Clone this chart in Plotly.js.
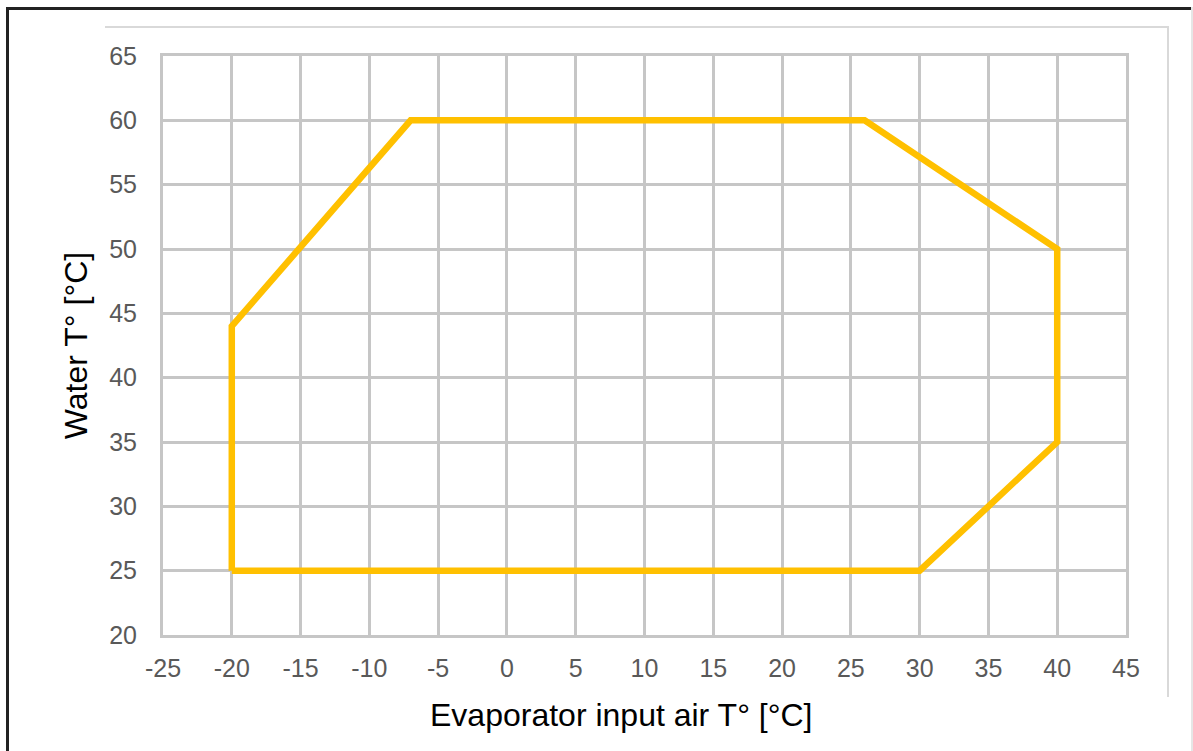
<!DOCTYPE html>
<html>
<head>
<meta charset="utf-8">
<script src="https://cdn.plot.ly/plotly-3.0.1.min.js"></script>
<style>
html,body{margin:0;padding:0;background:#fff;}
#wrap{position:relative;width:1193px;height:751px;overflow:hidden;}
#chart{position:absolute;left:0;top:0;width:1193px;height:751px;}
.ln{position:absolute;}
</style>
</head>
<body>
<div id="wrap">
<div id="chart"></div>
<div class="ln" style="left:6px;top:7px;width:1187px;height:3px;background:#222;"></div>
<div class="ln" style="left:6px;top:7px;width:3px;height:744px;background:#222;"></div>
<div class="ln" style="left:105px;top:26px;width:1064px;height:2px;background:#d9d9d9;"></div>
<div class="ln" style="left:1167px;top:26px;width:2px;height:671px;background:#d9d9d9;"></div>
<div class="ln" style="left:1191px;top:7px;width:2px;height:744px;background:#e6e6e6;"></div>
</div>
<script>
const airT = [-20, -20, -7, 26, 40, 40, 30, -20];
const waterT = [25, 44, 60, 60, 50, 35, 25, 25];
const xTicks = [-25, -20, -15, -10, -5, 0, 5, 10, 15, 20, 25, 30, 35, 40, 45];
const yTicks = [20, 25, 30, 35, 40, 45, 50, 55, 60, 65];
const xTitle = 'Evaporator input air T° [°C]';
const yTitle = 'Water T° [°C]';

const trace = {
  x: airT, y: waterT, type: 'scatter', mode: 'lines',
  line: {color: '#FFC000', width: 6.5}, hoverinfo: 'skip'
};
const gridColor = '#c6c6c6';
const layout = {
  width: 1193, height: 751,
  margin: {l: 163, r: 67, t: 56, b: 116},
  paper_bgcolor: 'rgba(0,0,0,0)', plot_bgcolor: '#fff',
  showlegend: false,
  font: {family: 'Liberation Sans, Arial, sans-serif'},
  xaxis: {
    range: [-25, 45], tickvals: xTicks, ticktext: xTicks.map(String),
    showgrid: true, gridcolor: gridColor, gridwidth: 3,
    showline: true, linecolor: gridColor, linewidth: 3, mirror: true,
    zeroline: false, ticks: 'outside', ticklen: 9, tickcolor: 'rgba(0,0,0,0)',
    tickfont: {size: 25, color: '#595959'}
  },
  yaxis: {
    range: [20, 65], tickvals: yTicks, ticktext: yTicks.map(String),
    showgrid: true, gridcolor: gridColor, gridwidth: 3,
    showline: true, linecolor: gridColor, linewidth: 3, mirror: true,
    zeroline: false, ticks: 'outside', ticklen: 18, tickcolor: 'rgba(0,0,0,0)',
    tickfont: {size: 25, color: '#595959'},
    title: {text: yTitle, font: {size: 32, color: '#000'}, standoff: 12}
  },
  annotations: [{
    text: xTitle, xref: 'paper', yref: 'paper', x: 0.4766, y: -0.138,
    xanchor: 'center', yanchor: 'middle', showarrow: false,
    font: {size: 32, color: '#000'}
  }]
};
Plotly.newPlot('chart', [trace], layout, {displayModeBar: false, staticPlot: true});
</script>
</body>
</html>
